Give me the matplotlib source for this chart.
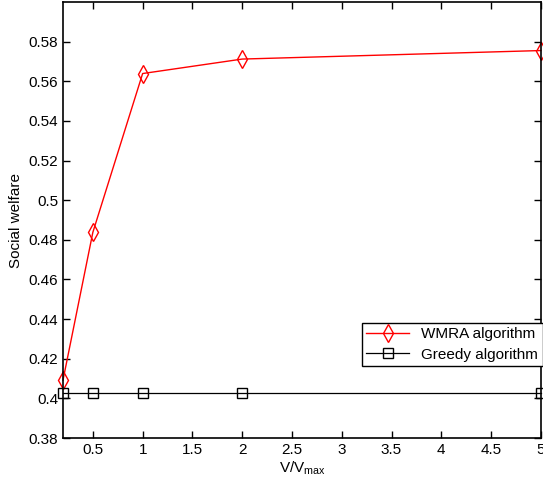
import numpy as np
import matplotlib
matplotlib.use('Agg')
import matplotlib.pyplot as plt

plt.rcParams['font.family'] = ['Liberation Sans', 'DejaVu Sans']
plt.rcParams['mathtext.fontset'] = 'custom'
plt.rcParams['mathtext.rm'] = 'Liberation Sans'
plt.rcParams['mathtext.it'] = 'Liberation Sans'

# data
v_ratio = [0.2, 0.5, 1, 2, 5]
wmra = [0.4092, 0.4838, 0.5639, 0.5712, 0.5755]
greedy = [0.4027, 0.4027, 0.4027, 0.4027, 0.4027]
x_ticks = [0.5, 1, 1.5, 2, 2.5, 3, 3.5, 4, 4.5, 5]
x_ticklabels = ['0.5', '1', '1.5', '2', '2.5', '3', '3.5', '4', '4.5', '5']
y_ticks = [0.38, 0.40, 0.42, 0.44, 0.46, 0.48, 0.50, 0.52, 0.54, 0.56, 0.58]
y_ticklabels = ['0.38', '0.4', '0.42', '0.44', '0.46', '0.48', '0.5', '0.52', '0.54', '0.56', '0.58']

fig = plt.figure(figsize=(5.43, 4.95), dpi=100)
ax = fig.add_axes([0.116, 0.115, 0.88, 0.881])

ax.plot(v_ratio, wmra, 'r-', marker='d', markersize=9, markerfacecolor='none',
        markeredgecolor='r', linewidth=1, label='WMRA algorithm', clip_on=False)
ax.plot(v_ratio, greedy, 'k-', marker='s', markersize=7, markerfacecolor='none',
        markeredgecolor='k', linewidth=0.9, label='Greedy algorithm', clip_on=False)

ax.set_xlim(0.2, 5)
ax.set_ylim(0.38, 0.6)
ax.set_xticks(x_ticks)
ax.set_xticklabels(x_ticklabels)
ax.set_yticks(y_ticks)
ax.set_yticklabels(y_ticklabels)
ax.tick_params(direction='in', top=True, right=True, labelsize=11, length=5, width=1)
for s in ax.spines.values():
    s.set_linewidth(1.2)

ax.set_xlabel(r'V/V$_{\mathrm{max}}$', fontsize=11, labelpad=2)
ax.set_ylabel('Social welfare', fontsize=11, labelpad=4)

leg = ax.legend(loc='lower right', bbox_to_anchor=(1.004, 0.165), fontsize=11,
                fancybox=False, edgecolor='k', framealpha=1, borderpad=0.3,
                handlelength=2.8, labelspacing=0.4, borderaxespad=0)
leg.get_frame().set_linewidth(1)

fig.savefig('out.png', dpi=100)
